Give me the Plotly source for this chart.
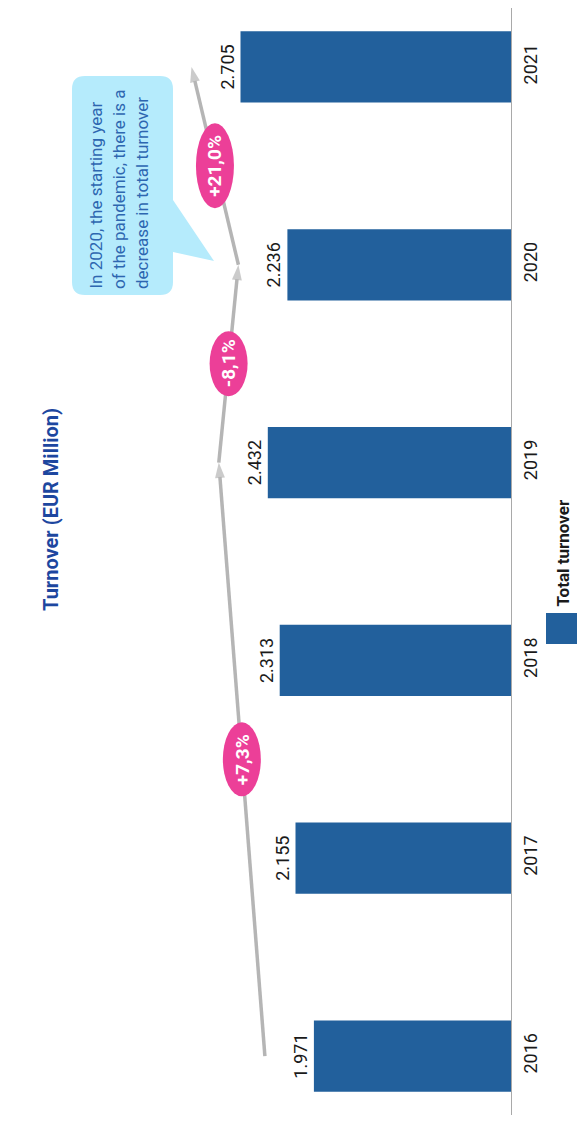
import plotly.graph_objects as go

# data
YEARS = [2016, 2017, 2018, 2019, 2020, 2021]
TURNOVER = [1971, 2155, 2313, 2432, 2236, 2705]  # EUR million
TREND_YEARS = [2016, 2019, 2020, 2021]
BADGE_LABELS = ['+7,3%', '-8,1%', '+21,0%']
NOTE_LINES = ['In 2020, the starting year',
              'of the pandemic, there is a',
              'decrease in total turnover']

colors = {
    'bar': '#22609c',
    'trend': '#b5b5b5',
    'badge': '#ec3f98',
    'title': '#1d479f',
    'note_bg': '#b5ebfc',
    'note_text': '#2d66b0',
    'axis': '#a9a9a9',
}

PAGE = 8                    # default body margin of the html page
FIG_W, FIG_H = 585 - PAGE, 1122 - PAGE
M = dict(l=3, r=74, t=0, b=7)
PW = FIG_W - M['l'] - M['r']
PH = FIG_H - M['t'] - M['b']
TREND_OFFSET = 490          # trend line sits a bit beyond the bar ends
BADGE_H = [74, 65, 85]      # pixel height of each pink ellipse


def px_x(x):
    # page pixel -> paper fraction
    return (x - PAGE - M['l']) / PW


def px_y(y):
    return (PAGE + FIG_H - M['b'] - y) / PH


value_of = dict(zip(YEARS, TURNOVER))
trend_x = [value_of[y] + TREND_OFFSET for y in TREND_YEARS]

fig = go.Figure()

fig.add_trace(go.Bar(
    x=TURNOVER,
    y=YEARS,
    orientation='h',
    width=0.36,
    name='Total turnover',
    marker=dict(color=colors['bar'], line=dict(width=0)),
    texttemplate='%{x:,}',
    textposition='outside',
    textangle=-90,
    constraintext='none',
    cliponaxis=False,
    textfont=dict(family='Roboto', size=18, color='#1a1a1a'),
    showlegend=False,
))

fig.add_trace(go.Scatter(
    x=trend_x,
    y=TREND_YEARS,
    mode='lines+markers',
    line=dict(color=colors['trend'], width=3.5),
    marker=dict(symbol='arrow', size=[0, 16, 16, 16], angleref='previous',
                color=colors['trend'], line=dict(width=0)),
    cliponaxis=False,
    showlegend=False,
    hoverinfo='skip',
))

shapes = []
annotations = []

# pink growth badges sit at the middle of each trend segment
for i, label in enumerate(BADGE_LABELS):
    mx = (trend_x[i] + trend_x[i + 1]) / 2
    my = (TREND_YEARS[i] + TREND_YEARS[i + 1]) / 2
    h = BADGE_H[i]
    shapes.append(dict(
        type='circle', xref='x', yref='y', layer='above',
        xsizemode='pixel', ysizemode='pixel', xanchor=mx, yanchor=my,
        x0=-19, x1=19, y0=-h / 2, y1=h / 2,
        fillcolor=colors['badge'], line=dict(width=0),
    ))
    annotations.append(dict(
        x=mx, y=my, xref='x', yref='y', text='<b>%s</b>' % label,
        textangle=-90, showarrow=False, xanchor='center', yanchor='middle',
        font=dict(family='Roboto', size=19, color='white'),
    ))

# callout bubble
x0, x1, y0, y1, r = 72, 173, 76, 295, 13
pts = [
    ('M', x0 + r, y0), ('L', x1 - r, y0), ('Q', x1, y0, x1, y0 + r),
    ('L', x1, 200), ('L', 214, 261), ('L', x1, 252),
    ('L', x1, y1 - r), ('Q', x1, y1, x1 - r, y1),
    ('L', x0 + r, y1), ('Q', x0, y1, x0, y1 - r),
    ('L', x0, y0 + r), ('Q', x0, y0, x0 + r, y0),
]
path = ''
for p in pts:
    coords = p[1:]
    parts = []
    for j in range(0, len(coords), 2):
        parts.append('%.5f,%.5f' % (px_x(coords[j]), px_y(coords[j + 1])))
    path += p[0] + ' '.join(parts) + ' '
path += 'Z'
shapes.append(dict(type='path', path=path, xref='paper', yref='paper',
                   fillcolor=colors['note_bg'], line=dict(width=0), layer='above'))

for k, line in enumerate(NOTE_LINES):
    annotations.append(dict(
        x=px_x(95 + k * 23.5), y=px_y(291), xref='paper', yref='paper',
        text=line, textangle=-90, showarrow=False,
        xanchor='center', yanchor='bottom',
        font=dict(family='Roboto', size=17, color=colors['note_text']),
    ))

# title
annotations.append(dict(
    x=px_x(51), y=px_y(510), xref='paper', yref='paper',
    text='<b>Turnover (EUR Million)</b>', textangle=-90, showarrow=False,
    xanchor='center', yanchor='middle',
    font=dict(family='Roboto', size=20, color=colors['title']),
))

# legend (drawn by hand so it can be rotated like the rest)
shapes.append(dict(type='rect', xref='paper', yref='paper',
                   x0=px_x(546), x1=px_x(577), y0=px_y(644), y1=px_y(613),
                   fillcolor=colors['bar'], line=dict(width=0)))
annotations.append(dict(
    x=px_x(562), y=px_y(609), xref='paper', yref='paper',
    text='<b>Total turnover</b>', textangle=-90, showarrow=False,
    xanchor='center', yanchor='bottom',
    font=dict(family='Roboto', size=17, color='#1a1a1a'),
))

fig.update_layout(
    width=FIG_W, height=FIG_H,
    margin=M,
    paper_bgcolor='white',
    plot_bgcolor='white',
    separators=',.',
    shapes=shapes,
    annotations=annotations,
    xaxis=dict(range=[PW * 10, 0], visible=False, showgrid=False, zeroline=False),
    yaxis=dict(
        side='right', range=[2015.702, 2021.298],
        tickvals=YEARS, ticktext=[str(y) for y in YEARS],
        tickangle=-90, ticklabelstandoff=3,
        tickfont=dict(family='Roboto', size=18, color='#1a1a1a'),
        showline=True, linecolor=colors['axis'], linewidth=1,
        showgrid=False, zeroline=False, ticks='',
    ),
)

fig.write_html("out.html")
